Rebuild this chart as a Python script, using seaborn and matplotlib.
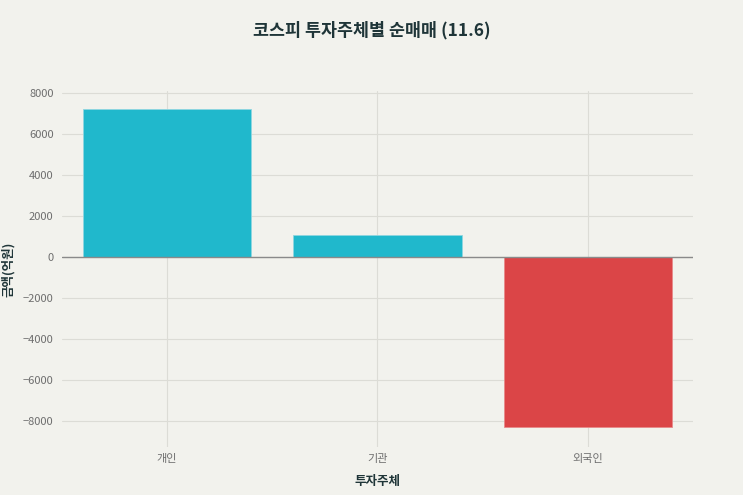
import pandas as pd
import seaborn as sns
import matplotlib.pyplot as plt

# 코스피 투자주체별 순매매 (억원)
investors = ['개인', '기관', '외국인']
net_amount = [7220, 1060, -8320]

sns.set_theme(style='whitegrid')
plt.rcParams['font.family'] = ['Noto Sans CJK KR', 'DejaVu Sans']
plt.rcParams['axes.unicode_minus'] = False

bg = '#f2f2ed'
frame = pd.DataFrame({'investor': investors, 'amount': net_amount})
frame['sign'] = ['pos' if v >= 0 else 'neg' for v in frame['amount']]

fig = plt.figure(figsize=(7.43, 4.95), dpi=100, facecolor=bg)
ax = fig.add_axes([0.0834, 0.097, 0.8493, 0.719])
ax.set_facecolor(bg)

sns.barplot(data=frame, x='investor', y='amount', hue='sign',
            palette={'pos': '#20b8cc', 'neg': '#db4547'},
            dodge=False, width=0.8, legend=False, saturation=1,
            linewidth=0.6, ax=ax)
for p, v in zip(ax.patches, net_amount):
    p.set_edgecolor('#8fd6e0' if v >= 0 else '#e88a8a')

ax.axhline(0, color='#8a8a8a', lw=1.0, zorder=3)
ax.set_xlim(-0.5, 2.5)
ax.set_ylim(-9290, 8110)
ax.set_yticks(range(-8000, 8001, 2000))
ax.set_yticklabels([f'{t}'.replace('-', '−') for t in range(-8000, 8001, 2000)])

ax.grid(True, color='#dcdcd6', lw=0.8)
ax.set_axisbelow(True)
for s in ax.spines.values():
    s.set_visible(False)
ax.tick_params(axis='y', length=4, color='#cfcfc9', labelsize=8, labelcolor='#6e6e6e', pad=2)
ax.tick_params(axis='x', length=0, labelsize=8, labelcolor='#6e6e6e', pad=5)

ax.set_xlabel('투자주체', fontsize=9, fontweight='bold', color='#1f3538')
ax.xaxis.set_label_coords(0.5, -0.08)
ax.set_ylabel('금액(억원)', fontsize=9, fontweight='bold', color='#1f3538', labelpad=6)
fig.text(0.5, 0.938, '코스피 투자주체별 순매매 (11.6)', ha='center', va='center',
         fontsize=12.5, fontweight='bold', color='#1f3538')

fig.savefig('out.png', dpi=100, facecolor=bg)
